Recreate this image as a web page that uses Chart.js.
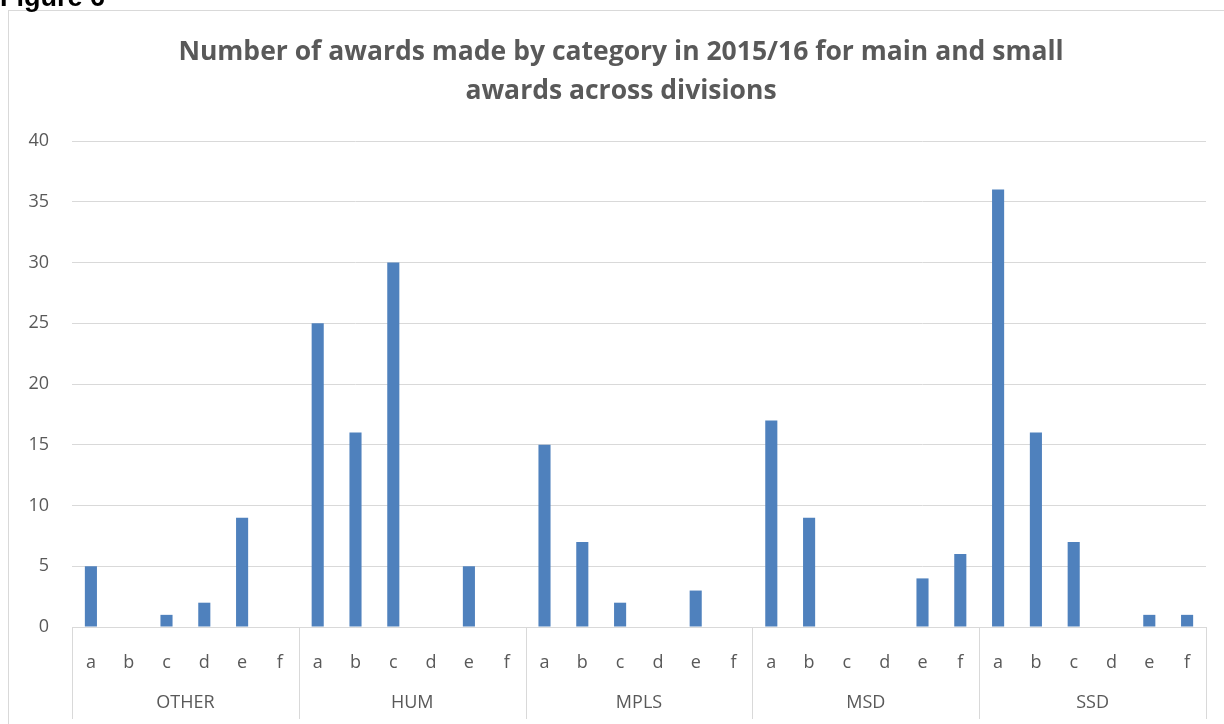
<!DOCTYPE html>
<html>
<head>
  <title>Number of awards made by category</title>
  <script src="https://cdn.jsdelivr.net/npm/chart.js@4/dist/chart.umd.min.js"></script>
  <style>
    body { margin: 0; background: #fff; }
  </style>
</head>
<body>
  <canvas id="awardsChart" width="1224" height="724"></canvas>
  <script>
    // data
    const divisions = ['OTHER', 'HUM', 'MPLS', 'MSD', 'SSD'];
    const letters = ['a', 'b', 'c', 'd', 'e', 'f'];
    const otherVals = [5, 0, 1, 2, 9, 0];
    const humVals = [25, 16, 30, 0, 5, 0];
    const mplsVals = [15, 7, 2, 0, 3, 0];
    const msdVals = [17, 9, 0, 0, 4, 6];
    const ssdVals = [36, 16, 7, 0, 1, 1];
    const yTicks = [0, 5, 10, 15, 20, 25, 30, 35, 40];

    const labels = [];
    divisions.forEach(() => letters.forEach(l => labels.push(l)));
    const values = [].concat(otherVals, humVals, mplsVals, msdVals, ssdVals);

    const grey = '#d9d9d9';
    const textGrey = '#595959';
    const font = '"Open Sans", sans-serif';

    // frame, figure caption, title, group separators and division names
    const decor = {
      id: 'decor',
      beforeDraw(chart) {
        const c = chart.ctx;
        c.save();
        c.strokeStyle = grey;
        c.lineWidth = 1;
        c.strokeRect(8.5, 10.5, 1240, 740);
        c.fillStyle = '#000';
        c.font = 'bold 27px "Liberation Sans", Arial, sans-serif';
        c.textBaseline = 'alphabetic';
        c.textAlign = 'left';
        c.fillText('Figure 6', 0, 6);
        c.fillStyle = textGrey;
        c.font = 'bold 26.5px ' + font;
        c.textAlign = 'center';
        c.textBaseline = 'middle';
        c.fillText('Number of awards made by category in 2015/16 for main and small', 621, 52);
        c.fillText('awards across divisions', 621, 91);
        c.restore();
      },
      afterDraw(chart) {
        const c = chart.ctx;
        const x = chart.scales.x;
        const area = chart.chartArea;
        const step = x.getPixelForValue(1) - x.getPixelForValue(0);
        c.save();
        c.strokeStyle = grey;
        c.lineWidth = 1;
        for (let g = 0; g <= divisions.length; g++) {
          const px = Math.round(x.getPixelForValue(g * letters.length) - step / 2) + 0.5;
          c.beginPath();
          c.moveTo(px, area.bottom);
          c.lineTo(px, 719);
          c.stroke();
        }
        c.fillStyle = textGrey;
        c.font = '18px ' + font;
        c.textAlign = 'center';
        c.textBaseline = 'middle';
        divisions.forEach((d, g) => {
          const mid = (x.getPixelForValue(g * letters.length) + x.getPixelForValue(g * letters.length + letters.length - 1)) / 2;
          c.fillText(d, mid, 703);
        });
        c.restore();
      }
    };

    new Chart(document.getElementById('awardsChart'), {
      type: 'bar',
      data: {
        labels: labels,
        datasets: [{
          data: values,
          backgroundColor: '#4f81bd',
          categoryPercentage: 1,
          barPercentage: 0.32
        }]
      },
      options: {
        responsive: false,
        animation: false,
        layout: { padding: { top: 141, right: 18, left: 0, bottom: 0 } },
        plugins: {
          legend: { display: false },
          tooltip: { enabled: false }
        },
        scales: {
          x: {
            grid: { display: false },
            border: { color: grey, width: 1 },
            ticks: { color: textGrey, font: { family: font, size: 18 }, padding: 17, maxRotation: 0, autoSkip: false },
            afterFit(scale) { scale.height = 97; }
          },
          y: {
            min: 0,
            max: 40,
            afterBuildTicks(scale) { scale.ticks = yTicks.map(v => ({ value: v })); },
            grid: { color: grey, drawTicks: false },
            border: { display: false },
            ticks: { color: textGrey, font: { family: font, size: 18 }, padding: 23 },
            afterFit(scale) { scale.width = 72; }
          }
        }
      },
      plugins: [decor]
    });
  </script>
</body>
</html>
